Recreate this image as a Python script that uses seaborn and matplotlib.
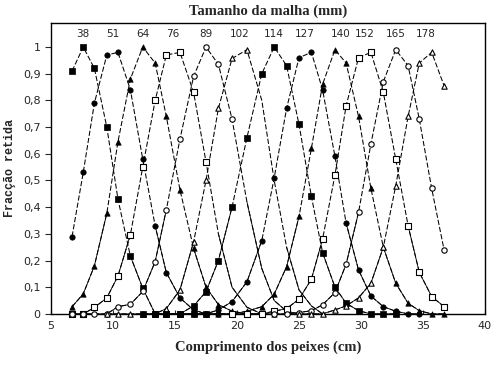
import numpy as np
import pandas as pd
import matplotlib
matplotlib.use("Agg")
import matplotlib.pyplot as plt
import seaborn as sns
from matplotlib.ticker import FuncFormatter

# length classes (cm)
length_cm = [6.7, 7.6, 8.5, 9.5, 10.4, 11.4, 12.4, 13.4, 14.3, 15.4, 16.5,
             17.5, 18.5, 19.6, 20.8, 22.0, 23.0, 24.0, 25.0, 26.0, 26.9,
             27.9, 28.8, 29.8, 30.8, 31.8, 32.8, 33.8, 34.7, 35.7, 36.7]

mesh_mm = [38, 51, 64, 76, 89, 102, 114, 127, 140, 152, 165, 178]

# retained fraction per mesh, starting at index start_idx[mesh] of length_cm
ret_38 = [0.91, 1.0, 0.92, 0.70, 0.43, 0.217, 0.096, 0.0, 0.0, 0.0, 0.0, 0.0]
ret_51 = [0.29, 0.53, 0.79, 0.97, 0.98, 0.84, 0.58, 0.33, 0.155, 0.06, 0.015,
          0.0, 0.0, 0.0]
ret_64 = [0.027, 0.075, 0.18, 0.377, 0.645, 0.88, 1.0, 0.94, 0.74, 0.465,
          0.246, 0.10, 0.035, 0.01, 0.0, 0.0, 0.0]
ret_76 = [0.0, 0.0, 0.024, 0.06, 0.142, 0.296, 0.55, 0.80, 0.97, 0.98, 0.83,
          0.57, 0.30, 0.10, 0.025, 0.0]
ret_89 = [0.0, 0.0, 0.0, 0.0, 0.027, 0.036, 0.084, 0.196, 0.39, 0.655, 0.89,
          1.0, 0.935, 0.73, 0.42, 0.17, 0.05, 0.01, 0.0]
ret_102 = [0.0, 0.0, 0.0, 0.0, 0.0, 0.02, 0.09, 0.27, 0.50, 0.77, 0.957,
           0.99, 0.80, 0.50, 0.25, 0.09, 0.03, 0.0]
ret_114 = [0.0, 0.0, 0.0, 0.0, 0.03, 0.083, 0.20, 0.40, 0.66, 0.90, 1.0,
           0.93, 0.71, 0.44, 0.23, 0.10, 0.04, 0.012, 0.0, 0.0, 0.0]
ret_127 = [0.0, 0.0, 0.0, 0.0, 0.015, 0.046, 0.12, 0.275, 0.51, 0.77, 0.96,
           0.98, 0.84, 0.59, 0.34, 0.165, 0.067, 0.027, 0.01, 0.0, 0.0]
ret_140 = [0.0, 0.0, 0.0, 0.01, 0.027, 0.074, 0.177, 0.365, 0.62, 0.86, 0.99,
           0.94, 0.74, 0.47, 0.25, 0.115, 0.04, 0.012, 0.0, 0.0]
ret_152 = [0.0, 0.0, 0.0, 0.01, 0.02, 0.055, 0.13, 0.28, 0.52, 0.78, 0.96,
           0.98, 0.83, 0.58, 0.33, 0.156, 0.065, 0.027]
ret_165 = [0.0, 0.0, 0.005, 0.012, 0.034, 0.08, 0.186, 0.38, 0.637, 0.87,
           0.99, 0.93, 0.73, 0.47, 0.24]
ret_178 = [0.0, 0.0, 0.0, 0.015, 0.03, 0.06, 0.115, 0.25, 0.48, 0.74, 0.94,
           0.98, 0.855]

retained = [ret_38, ret_51, ret_64, ret_76, ret_89, ret_102,
            ret_114, ret_127, ret_140, ret_152, ret_165, ret_178]
start_idx = [0, 0, 0, 0, 0, 3, 6, 8, 11, 13, 16, 18]
# falling tails drawn as a line only (no markers) from this grid index on
unmarked_from = {76: 12, 89: 14, 102: 15}

markers = ["s", "o", "^", "s", "o", "^", "s", "o", "^", "s", "o", "^"]
filled = [True, True, True, False, False, False,
          True, True, True, False, False, False]

sns.set_style("ticks")
plt.rcParams["font.family"] = ["DejaVu Sans"]

fig, ax = plt.subplots(figsize=(5, 3.65), dpi=100)
fig.subplots_adjust(left=0.102, right=0.97, bottom=0.14, top=0.937)

for mesh, vals, st, mk, fl in zip(mesh_mm, retained, start_idx, markers, filled):
    xs = np.array(length_cm[st:st + len(vals)])
    ys = np.array(vals)
    df = pd.DataFrame({"x": xs, "y": ys})

    # dashed line through the points, solid in the low tails
    sns.lineplot(data=df, x="x", y="y", ax=ax, color="black", lw=0.75,
                 linestyle=(0, (5, 2)), sort=False, zorder=2)
    low = np.where(ys <= 0.42, ys, np.nan)
    ax.plot(xs, low, color="black", lw=0.6, zorder=2)

    cut = unmarked_from.get(mesh, 99) - st
    mdf = df.iloc[:cut]
    if fl:
        sns.scatterplot(data=mdf, x="x", y="y", ax=ax, marker=mk, s=15,
                        color="black", edgecolor="black", linewidth=0.5,
                        clip_on=False, zorder=3)
    else:
        sns.scatterplot(data=mdf, x="x", y="y", ax=ax, marker=mk, s=15,
                        facecolor="white", edgecolor="black", linewidth=0.8,
                        clip_on=False, zorder=3)

    # mesh label above the peak
    top = ys.max()
    xpk = xs[ys >= top - 0.05].mean()
    ax.text(xpk, 1.03, str(mesh), ha="center", va="bottom", fontsize=7.5)

ax.set_xlim(5, 40)
ax.set_ylim(0, 1.09)
ax.set_xticks(range(5, 41, 5))
ax.set_yticks(np.arange(0, 1.01, 0.1))
ax.yaxis.set_major_formatter(FuncFormatter(
    lambda v, p: "0" if v < 0.01 else ("1" if v > 0.99 else f"{v:.1f}".replace(".", ","))))
ax.tick_params(axis="x", direction="in", length=3, labelsize=8, pad=5)
ax.tick_params(axis="y", direction="out", length=4, labelsize=8)
for sp in ax.spines.values():
    sp.set_visible(True)
    sp.set_linewidth(1.0)
    sp.set_color("black")

ax.set_title("Tamanho da malha (mm)", family="Liberation Serif",
             weight="bold", fontsize=10.5, pad=6)
ax.set_xlabel("Comprimento dos peixes (cm)", family="Liberation Serif",
              weight="bold", fontsize=10.5, labelpad=7)
ax.set_ylabel("Fracção retida", family="Liberation Mono", weight="bold",
              fontsize=8.5, labelpad=5)

fig.savefig("out.png", dpi=100)
